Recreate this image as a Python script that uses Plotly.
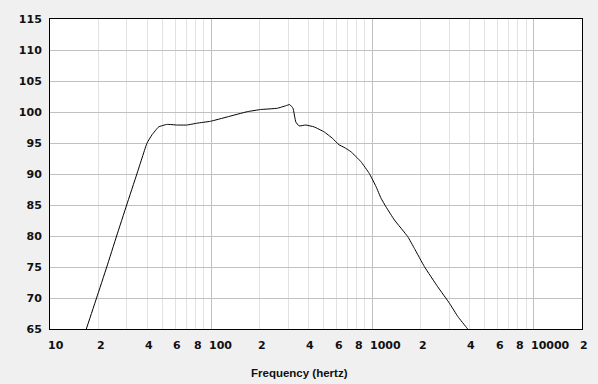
import math
import plotly.graph_objects as go

# Frequency response data
freq_hz = [15, 16.8, 19.45, 22.5, 25.9, 29.9, 34.6, 40.0, 42.9, 47.2, 53.2, 61.4, 70.8,
           81.8, 99, 125.6, 167.5, 203, 257, 290, 307, 322, 335, 351, 386, 435, 502,
           566, 622, 668, 736, 849, 957, 1053, 1132, 1216, 1369, 1659, 1824, 2105,
           2547, 3011, 3394, 3880, 4300]
spl_db = [61.2, 65, 70, 75, 80, 85, 90, 95, 96.3, 97.6, 98.0, 97.9, 97.9,
          98.2, 98.5, 99.2, 100.05, 100.4, 100.6, 101.0, 101.2, 100.6, 98.4, 97.75, 97.9, 97.6, 96.8,
          95.75, 94.7, 94.3, 93.6, 92.0, 90.1, 88.0, 86.1, 84.7, 82.6, 79.9, 78.0, 75.05,
          71.8, 69.15, 67.0, 65.1, 63.6]

x_major = [10, 100, 1000, 10000]
x_minor = [m * d for d in (10, 100, 1000) for m in range(2, 10)] + [20000]
x_label_vals = [10, 20, 40, 60, 80, 100, 200, 400, 600, 800, 1000, 2000, 4000, 6000, 8000, 10000, 20000]
x_label_text = ["10", "2", "4", "6", "8", "100", "2", "4", "6", "8", "1000", "2", "4", "6", "8", "10000", "2"]
y_ticks = [65, 70, 75, 80, 85, 90, 95, 100, 105, 110, 115]
x_title = "Frequency (hertz)"

fig = go.Figure()
fig.add_trace(go.Scatter(x=freq_hz, y=spl_db, mode="lines",
                         line=dict(color="black", width=1, shape="spline", smoothing=0.3),
                         hoverinfo="skip", showlegend=False))

tick_font = dict(family="DejaVu Sans", size=11, color="#111111", weight="bold")

annotations = []
for v, t in zip(x_label_vals, x_label_text):
    annotations.append(dict(x=math.log10(v), xref="x", y=0, yref="paper", text=t,
                            showarrow=False, xanchor="left", yanchor="top",
                            xshift=-4, yshift=-8, font=tick_font))
annotations.append(dict(x=(299 - 50) / 532, xref="paper", y=0, yref="paper", text=x_title,
                        showarrow=False, xanchor="center", yanchor="top", yshift=-36,
                        font=dict(family="Liberation Sans", size=11.5, color="#111111", weight="bold")))

fig.update_layout(
    width=598, height=384,
    margin=dict(l=50, r=16, t=19, b=55, autoexpand=False),
    paper_bgcolor="#f0f0f0", plot_bgcolor="white",
    annotations=annotations,
    xaxis=dict(type="log", range=[1, math.log10(20000)], tickmode="array", tickvals=x_major,
               showticklabels=False, ticks="", showgrid=True, gridcolor="#c0c0c0", gridwidth=1,
               minor=dict(tickmode="array", tickvals=x_minor, showgrid=True,
                          gridcolor="#e2e2e2", gridwidth=1, ticks=""),
               automargin=False,
               showline=True, linecolor="black", linewidth=1, mirror=True, zeroline=False),
    yaxis=dict(range=[65, 115], tickmode="array", tickvals=y_ticks, ticks="",
               showgrid=True, gridcolor="#c0c0c0", gridwidth=1, tickfont=tick_font,
               ticklabelstandoff=5, automargin=False,
               showline=True, linecolor="black", linewidth=1, mirror=True, zeroline=False),
)

fig.write_html("out.html", config={"displayModeBar": False},
               post_script="document.body.style.margin='0';document.body.style.background='#f0f0f0';")
